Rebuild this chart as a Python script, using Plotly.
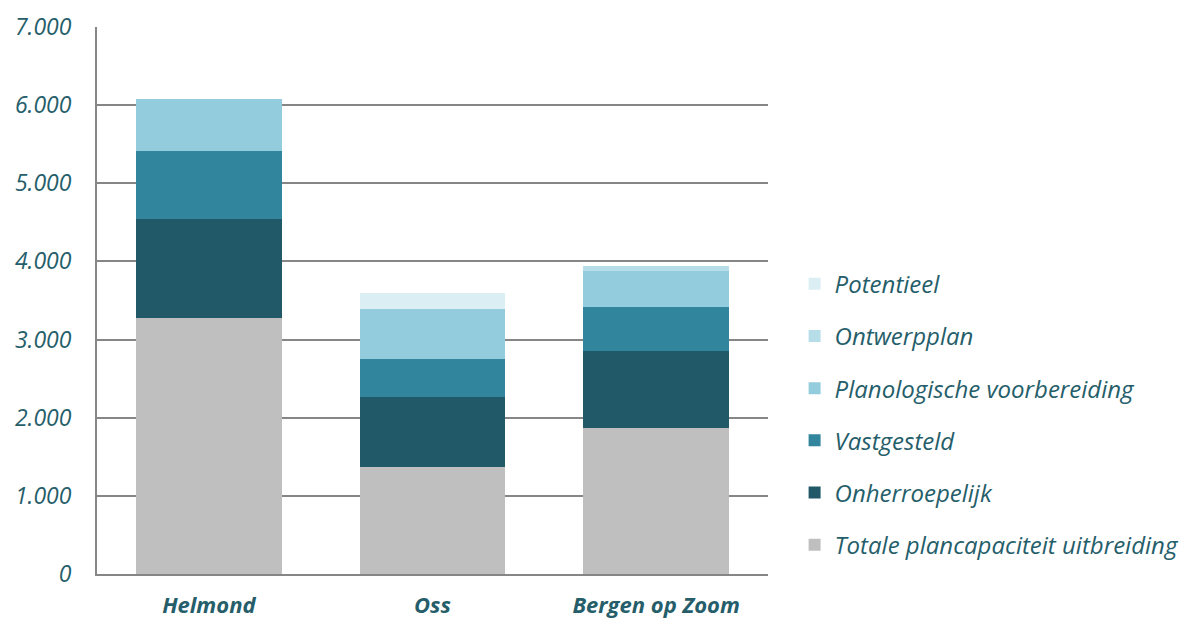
import plotly.graph_objects as go

# Gemeenten en plancapaciteit per planstatus (aantal woningen)
gemeenten = ["Helmond", "Oss", "Bergen op Zoom"]
totale_plancapaciteit = [3275, 1370, 1865]
onherroepelijk = [1270, 900, 985]
vastgesteld = [870, 485, 570]
planologische_voorbereiding = [665, 635, 460]
ontwerpplan = [0, 0, 60]
potentieel = [0, 205, 0]

y_tickvals = [0, 1000, 2000, 3000, 4000, 5000, 6000, 7000]
y_ticktext = ["0", "1.000", "2.000", "3.000", "4.000", "5.000", "6.000", "7.000"]

series = [
    ("Totale plancapaciteit uitbreiding", totale_plancapaciteit, "#BFBFBF"),
    ("Onherroepelijk", onherroepelijk, "#215968"),
    ("Vastgesteld", vastgesteld, "#31859C"),
    ("Planologische voorbereiding", planologische_voorbereiding, "#93CDDD"),
    ("Ontwerpplan", ontwerpplan, "#B7DEE8"),
    ("Potentieel", potentieel, "#DAEEF3"),
]

text_color = "#255E6A"
font_family = "Open Sans"

fig = go.Figure()
n = len(series)
for i, (name, vals, color) in enumerate(series):
    fig.add_trace(go.Bar(
        x=gemeenten,
        y=vals,
        name=name,
        marker=dict(color=color, line=dict(width=0)),
        width=0.65,
        legendgroup=f"g{i}",
        legendrank=n - i,
    ))

fig.update_layout(
    barmode="stack",
    width=1189,
    height=621,
    margin=dict(l=97, r=2, t=27, b=47),
    plot_bgcolor="white",
    paper_bgcolor="white",
    font=dict(family=font_family, color=text_color),
    showlegend=True,
    legend=dict(
        traceorder="grouped",
        tracegroupgap=18,
        x=0.640,
        xanchor="left",
        y=0.571,
        yanchor="top",
        font=dict(family=font_family, size=24, color=text_color, style="italic"),
        itemwidth=30,
        bgcolor="rgba(0,0,0,0)",
        borderwidth=0,
    ),
)

fig.update_xaxes(
    domain=[0, 0.6156],
    showline=True,
    linecolor="#868686",
    linewidth=2,
    ticks="",
    automargin=False,
    tickfont=dict(family=font_family, size=22, color=text_color, weight="bold", style="italic"),
    ticklabelstandoff=11,
)

fig.update_yaxes(
    range=[0, 7000],
    tickvals=y_tickvals,
    ticktext=y_ticktext,
    showgrid=True,
    gridcolor="#868686",
    gridwidth=2,
    showline=True,
    linecolor="#868686",
    linewidth=2,
    zeroline=False,
    ticks="",
    automargin=False,
    tickfont=dict(family=font_family, size=23, color=text_color, style="italic"),
    ticklabelstandoff=19,
)

fig.write_html("out.html")
